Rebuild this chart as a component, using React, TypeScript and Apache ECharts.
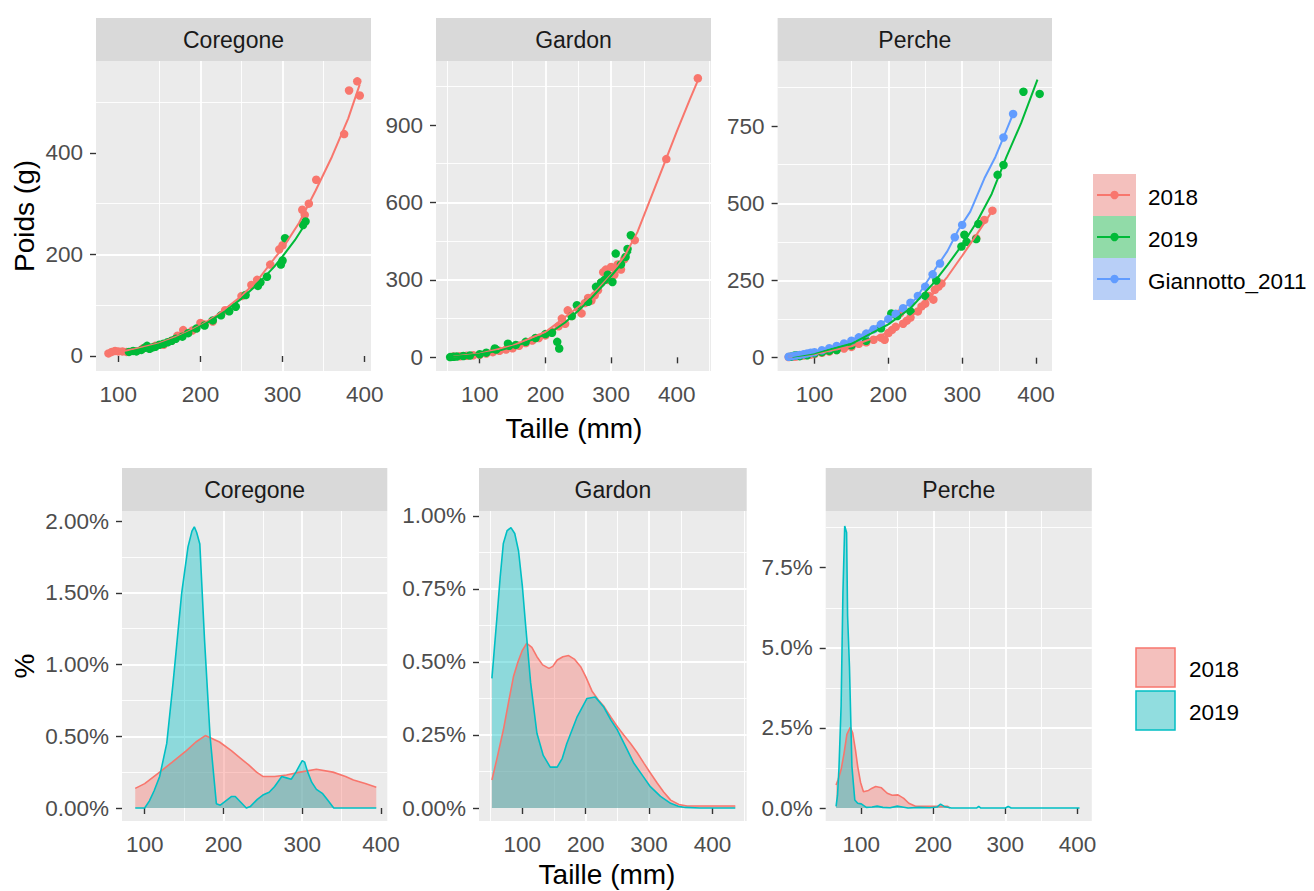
import React, { useEffect, useRef } from "react";
import * as echarts from "echarts";

const FONT = '"Liberation Sans", Arial, sans-serif';
const RED = "#F8766D";
const GREEN = "#00BA38";
const BLUE = "#619CFF";
const CYAN = "#00BFC4";

// ---------- Top row: Poids vs Taille ----------
const cor18PtsX = [88, 92, 96, 100, 105, 110, 130, 145, 155, 165, 172, 179, 190, 200, 205, 215, 230, 250, 262, 269, 285, 296, 300, 324, 327, 332, 341, 375, 381, 391, 394];
const cor18PtsY = [5, 8, 10, 9, 9, 8, 15, 20, 22, 30, 40, 51, 50, 65, 62, 68, 90, 118, 140, 150, 180, 210, 218, 288, 278, 300, 347, 437, 523, 541, 513];
const cor18FitX = [88, 100, 120, 150, 180, 200, 220, 250, 270, 290, 300, 320, 340, 360, 380, 394];
const cor18FitY = [5, 8, 14, 25, 44, 60, 80, 118, 150, 192, 212, 262, 325, 392, 468, 535];
const cor19PtsX = [113, 118, 122, 128, 132, 135, 138, 142, 145, 150, 155, 160, 165, 170, 178, 185, 195, 205, 215, 225, 235, 243, 255, 270, 273, 281, 298, 300, 303, 325, 328];
const cor19PtsY = [8, 10, 9, 12, 16, 20, 14, 17, 18, 22, 24, 27, 30, 34, 38, 45, 54, 60, 70, 80, 88, 97, 120, 138, 145, 156, 180, 188, 232, 258, 265];
const cor19FitX = [113, 130, 150, 170, 190, 210, 230, 250, 270, 290, 300, 315, 330];
const cor19FitY = [8, 15, 23, 35, 50, 67, 88, 113, 142, 176, 196, 228, 266];

const gar18PtsX = [60, 70, 80, 90, 100, 110, 120, 130, 140, 150, 160, 170, 180, 190, 200, 210, 220, 225, 230, 234, 240, 250, 255, 260, 265, 270, 275, 280, 285, 288, 292, 295, 300, 305, 310, 315, 320, 336, 384, 432];
const gar18PtsY = [3, 4, 6, 8, 10, 15, 20, 25, 30, 35, 45, 55, 65, 75, 85, 100, 120, 150, 130, 182, 160, 190, 170, 210, 230, 220, 240, 260, 290, 330, 340, 300, 350, 320, 360, 340, 380, 454, 768, 1081];
const gar18FitX = [60, 100, 150, 200, 250, 280, 300, 320, 340, 360, 380, 400, 420, 435];
const gar18FitY = [3, 14, 45, 98, 195, 265, 320, 390, 485, 615, 745, 875, 1000, 1090];
const gar19PtsX = [55, 60, 65, 75, 85, 100, 110, 123, 125, 143, 145, 155, 170, 185, 200, 210, 218, 221, 240, 248, 265, 277, 285, 290, 295, 302, 307, 315, 322, 325, 330];
const gar19PtsY = [1, 2, 3, 5, 7, 12, 18, 34, 30, 53, 45, 48, 60, 75, 90, 95, 60, 34, 160, 202, 215, 273, 290, 300, 320, 292, 402, 360, 389, 420, 473];
const gar19FitX = [55, 80, 100, 130, 160, 190, 210, 230, 250, 270, 290, 310, 330];
const gar19FitY = [1, 6, 12, 26, 48, 78, 100, 135, 180, 230, 285, 345, 410];

const per18PtsX = [65, 68, 72, 75, 80, 85, 90, 95, 100, 110, 120, 130, 140, 150, 160, 170, 180, 190, 195, 200, 205, 210, 216, 220, 225, 230, 240, 245, 250, 255, 261, 263, 268, 272, 319, 330, 341];
const per18PtsY = [2, 3, 4, 4, 6, 7, 9, 10, 12, 16, 20, 25, 30, 35, 45, 50, 58, 65, 58, 80, 90, 100, 144, 110, 120, 130, 150, 166, 175, 200, 188, 220, 230, 240, 387, 446, 476];
const per18FitX = [65, 100, 150, 200, 220, 240, 260, 280, 300, 320, 341];
const per18FitY = [3, 12, 37, 82, 112, 152, 205, 262, 330, 400, 476];
const per19PtsX = [68, 72, 75, 80, 90, 100, 110, 120, 130, 150, 170, 190, 204, 212, 230, 250, 265, 299, 303, 306, 319, 322, 348, 356, 383, 405];
const per19PtsY = [3, 6, 8, 5, 8, 14, 18, 22, 25, 40, 55, 95, 143, 135, 150, 200, 250, 360, 398, 375, 384, 433, 592, 624, 861, 854];
const per19FitX = [70, 100, 150, 200, 230, 260, 280, 300, 320, 340, 360, 380, 402];
const per19FitY = [3, 14, 45, 108, 160, 238, 300, 365, 440, 530, 650, 760, 900];
const giaPtsX = [65, 70, 75, 80, 85, 90, 95, 100, 110, 120, 130, 140, 150, 160, 170, 180, 190, 200, 210, 220, 230, 240, 250, 260, 270, 290, 300, 356, 369];
const giaPtsY = [3, 5, 7, 9, 11, 14, 16, 18, 24, 31, 38, 46, 55, 66, 78, 92, 108, 125, 142, 160, 178, 200, 230, 270, 305, 390, 430, 713, 789];
const giaFitX = [65, 100, 150, 200, 237, 263, 280, 295, 311, 330, 345, 356, 369];
const giaFitY = [3, 18, 55, 125, 190, 285, 345, 414, 473, 580, 650, 713, 789];

// ---------- Bottom row: density (%) vs Taille ----------
const corD18X = [88, 100, 119, 135, 153, 165, 177, 195, 210, 221, 232, 242, 250, 265, 280, 297, 318, 339, 355, 365, 380, 394];
const corD18Y = [0.137, 0.17, 0.25, 0.32, 0.4, 0.46, 0.505, 0.46, 0.4, 0.35, 0.3, 0.25, 0.22, 0.22, 0.23, 0.25, 0.27, 0.25, 0.22, 0.195, 0.17, 0.145];
const corD19X = [88, 100, 106, 112, 119, 128, 136, 147, 155, 160, 163, 166, 170, 176, 183, 191, 196, 203, 210, 215, 222, 229, 234, 243, 250, 258, 265, 274, 280, 286, 292, 297, 300, 303, 307, 312, 318, 326, 333, 340, 394];
const corD19Y = [0, 0, 0.05, 0.12, 0.22, 0.45, 0.87, 1.5, 1.82, 1.93, 1.96, 1.92, 1.84, 1.17, 0.5, 0.03, 0.02, 0.05, 0.08, 0.08, 0.04, 0, 0.01, 0.06, 0.09, 0.11, 0.15, 0.22, 0.21, 0.2, 0.25, 0.3, 0.33, 0.32, 0.25, 0.18, 0.13, 0.1, 0.05, 0, 0];

const garD18X = [52, 60, 70, 78, 86, 93, 100, 107, 115, 123, 132, 142, 148, 155, 164, 173, 182, 192, 200, 210, 220, 228, 240, 250, 260, 271, 281, 292, 302, 313, 323, 334, 347, 360, 436];
const garD18Y = [0.096, 0.17, 0.267, 0.36, 0.45, 0.5, 0.54, 0.564, 0.55, 0.518, 0.49, 0.478, 0.485, 0.507, 0.518, 0.522, 0.51, 0.484, 0.45, 0.4, 0.37, 0.35, 0.31, 0.278, 0.25, 0.22, 0.19, 0.153, 0.12, 0.085, 0.055, 0.027, 0.012, 0.007, 0.007];
const garD19X = [52, 56, 60, 65, 70, 76, 82, 88, 94, 100, 105, 113, 123, 133, 144, 155, 163, 170, 186, 202, 215, 228, 240, 250, 263, 276, 290, 302, 318, 334, 346, 357, 380, 436];
const garD19Y = [0.444, 0.55, 0.655, 0.79, 0.906, 0.95, 0.96, 0.94, 0.88, 0.76, 0.63, 0.43, 0.256, 0.18, 0.14, 0.14, 0.17, 0.22, 0.31, 0.375, 0.38, 0.347, 0.3, 0.267, 0.21, 0.153, 0.11, 0.073, 0.04, 0.016, 0.006, 0.002, 0, 0];

const perD18X = [65, 68, 72, 76, 80, 84.7, 88, 92, 95, 99, 103, 110, 115, 120, 128, 136, 143, 151, 159, 166, 176, 190, 205, 220, 223];
const perD18Y = [0.72, 0.9, 1.2, 1.7, 2.3, 2.52, 2.35, 1.8, 1.3, 0.8, 0.51, 0.55, 0.62, 0.67, 0.63, 0.46, 0.4, 0.41, 0.3, 0.15, 0.05, 0.05, 0.05, 0.05, 0];
const perD19X = [65, 67, 69, 72, 74.5, 77, 79.6, 81, 83.6, 87, 91, 95, 100, 107, 115, 122, 130, 140, 150, 155, 165, 180, 195, 205, 210, 215, 225, 260, 263, 266, 300, 304, 308, 403];
const perD19Y = [0.05, 0.4, 1.24, 3.2, 6.7, 8.8, 8.6, 6.0, 4.4, 1.3, 0.25, 0.15, 0.13, 0.02, 0.03, 0.06, 0.02, 0.01, 0.06, 0.04, 0, 0.02, 0.01, 0.03, 0.12, 0.05, 0, 0, 0.05, 0, 0, 0.05, 0, 0];

const xTicks = [100, 200, 300, 400];
const panelNames = ["Coregone", "Gardon", "Perche"];
const topYTicks = [[0, 200, 400], [0, 300, 600, 900], [0, 250, 500, 750]];
const botYTicks = [[0, 0.5, 1, 1.5, 2], [0, 0.25, 0.5, 0.75, 1], [0, 2.5, 5, 7.5]];
const legendTop = ["2018", "2019", "Giannotto_2011"];
const legendBot = ["2018", "2019"];

// layout (pixels)
const panels = [
  { left: 96, top: 61, width: 275, height: 310, xr: [72.8, 407.7], yr: [-29.6, 581], yi: 200, dec: -1 },
  { left: 436, top: 61, width: 275, height: 310, xr: [33.5, 452], yr: [-53, 1148], yi: 300, dec: -1 },
  { left: 777.6, top: 61, width: 274.4, height: 310, xr: [50, 421.7], yr: [-43, 960.5], yi: 250, dec: -1 },
  { left: 122, top: 511, width: 265.3, height: 310, xr: [71.2, 408], yr: [-0.0906, 2.07], yi: 0.5, dec: 2 },
  { left: 479, top: 511, width: 267.7, height: 310, xr: [31.6, 454], yr: [-0.0445, 1.017], yi: 0.25, dec: 2 },
  { left: 825.7, top: 511, width: 266.1, height: 310, xr: [50.6, 420], yr: [-0.405, 9.27], yi: 2.5, dec: 1 },
];

const TICK_FS = 22.5;
const zip = (xs: number[], ys: number[]) => xs.map((x, i) => [x, ys[i]]);

function scatterS(i: number, xs: number[], ys: number[], color: string) {
  return { type: "scatter", xAxisIndex: i, yAxisIndex: i, data: zip(xs, ys), symbolSize: 8.5, itemStyle: { color, opacity: 1 }, silent: true, z: 2 };
}
function lineS(i: number, xs: number[], ys: number[], color: string) {
  return { type: "line", xAxisIndex: i, yAxisIndex: i, data: zip(xs, ys), showSymbol: false, symbol: "none", lineStyle: { color, width: 2 }, silent: true, z: 3 };
}
function densS(i: number, xs: number[], ys: number[], color: string) {
  return { type: "line", xAxisIndex: i, yAxisIndex: i, data: zip(xs, ys), showSymbol: false, symbol: "none", lineStyle: { color, width: 1.6 }, areaStyle: { color, opacity: 0.4 }, silent: true, z: 2 };
}

function axisCommon(ticks: number[]) {
  return {
    axisLine: { show: false },
    axisTick: { show: true, length: 6, lineStyle: { color: "#333333", width: 1.4 }, customValues: ticks },
    splitLine: { show: true, showMinLine: false, showMaxLine: false, lineStyle: { color: "#FFFFFF", width: 1.8 } },
    minorTick: { show: false, splitNumber: 2 },
    minorSplitLine: { show: true, lineStyle: { color: "#FFFFFF", width: 0.9 } },
  };
}

export default function App() {
  const ref = useRef<HTMLDivElement>(null);
  useEffect(() => {
    if (!ref.current) return;
    const chart = echarts.init(ref.current, null, { renderer: "svg" });

    const grid = panels.map((p) => ({ left: p.left, top: p.top, width: p.width, height: p.height, show: true, backgroundColor: "#EBEBEB", borderWidth: 0, containLabel: false }));
    const xAxis = panels.map((p, i) => ({
      type: "value", gridIndex: i, min: p.xr[0], max: p.xr[1], minInterval: 100, maxInterval: 100, splitNumber: 3,
      ...axisCommon(xTicks),
      axisLabel: { show: true, color: "#4D4D4D", fontSize: TICK_FS, fontFamily: FONT, margin: 12, customValues: xTicks, formatter: (v: number) => String(Math.round(v)) },
    }));
    const yAxis = panels.map((p, i) => {
      const ticks = i < 3 ? topYTicks[i] : botYTicks[i - 3];
      return {
        type: "value", gridIndex: i, min: p.yr[0], max: p.yr[1], minInterval: p.yi, maxInterval: p.yi, splitNumber: 4,
        ...axisCommon(ticks),
        axisLabel: {
          show: true, color: "#4D4D4D", fontSize: TICK_FS, fontFamily: FONT, margin: 13, customValues: ticks,
          formatter: (v: number) => (p.dec < 0 ? String(Math.round(v)) : Math.abs(v).toFixed(p.dec) + "%"),
        },
      };
    });

    const series: any[] = [
      scatterS(0, cor18PtsX, cor18PtsY, RED), scatterS(0, cor19PtsX, cor19PtsY, GREEN),
      lineS(0, cor18FitX, cor18FitY, RED), lineS(0, cor19FitX, cor19FitY, GREEN),
      scatterS(1, gar18PtsX, gar18PtsY, RED), scatterS(1, gar19PtsX, gar19PtsY, GREEN),
      lineS(1, gar18FitX, gar18FitY, RED), lineS(1, gar19FitX, gar19FitY, GREEN),
      scatterS(2, per18PtsX, per18PtsY, RED), scatterS(2, per19PtsX, per19PtsY, GREEN), scatterS(2, giaPtsX, giaPtsY, BLUE),
      lineS(2, per18FitX, per18FitY, RED), lineS(2, per19FitX, per19FitY, GREEN), lineS(2, giaFitX, giaFitY, BLUE),
      densS(3, corD18X, corD18Y, RED), densS(3, corD19X, corD19Y, CYAN),
      densS(4, garD18X, garD18Y, RED), densS(4, garD19X, garD19Y, CYAN),
      densS(5, perD18X, perD18Y, RED), densS(5, perD19X, perD19Y, CYAN),
    ];

    const graphic: any[] = [];
    panels.forEach((p, i) => {
      graphic.push({ type: "rect", silent: true, shape: { x: p.left, y: p.top - 43, width: p.width, height: 43 }, style: { fill: "#D9D9D9" } });
      graphic.push({ type: "text", silent: true, x: p.left + p.width / 2, y: p.top - 21, style: { text: panelNames[i % 3], fill: "#1A1A1A", fontSize: 23, fontFamily: FONT, align: "center", verticalAlign: "middle" } });
    });
    const titleStyle = { fill: "#000000", fontSize: 28, fontFamily: FONT, align: "center", verticalAlign: "middle" };
    graphic.push({ type: "text", silent: true, x: 24, y: 216, rotation: Math.PI / 2, style: { ...titleStyle, text: "Poids (g)" } });
    graphic.push({ type: "text", silent: true, x: 574, y: 428, style: { ...titleStyle, text: "Taille (mm)" } });
    graphic.push({ type: "text", silent: true, x: 24, y: 666, rotation: Math.PI / 2, style: { ...titleStyle, text: "%" } });
    graphic.push({ type: "text", silent: true, x: 607, y: 874, style: { ...titleStyle, text: "Taille (mm)" } });

    // top legend
    const keyFillTop = ["#F4C0BD", "#91DBA8", "#B8CFF7"];
    const keyColTop = [RED, GREEN, BLUE];
    legendTop.forEach((lab, i) => {
      const y0 = 174 + 42 * i;
      graphic.push({ type: "rect", silent: true, shape: { x: 1093, y: y0, width: 43, height: 42 }, style: { fill: keyFillTop[i] } });
      graphic.push({ type: "line", silent: true, shape: { x1: 1097, y1: y0 + 21, x2: 1130, y2: y0 + 21 }, style: { stroke: keyColTop[i], lineWidth: 2.2 } });
      graphic.push({ type: "circle", silent: true, shape: { cx: 1114.5, cy: y0 + 21, r: 4.2 }, style: { fill: keyColTop[i] } });
      graphic.push({ type: "text", silent: true, x: 1148, y: y0 + 23, style: { text: lab, fill: "#000000", fontSize: TICK_FS, fontFamily: FONT, align: "left", verticalAlign: "middle" } });
    });
    // bottom legend
    const keyFillBot = ["#F4C0BD", "#91DDDF"];
    const keyColBot = [RED, CYAN];
    legendBot.forEach((lab, i) => {
      const y0 = 648 + 43 * i;
      graphic.push({ type: "rect", silent: true, shape: { x: 1136, y: y0, width: 39, height: 39 }, style: { fill: keyFillBot[i], stroke: keyColBot[i], lineWidth: 1.5 } });
      graphic.push({ type: "text", silent: true, x: 1189, y: y0 + 21, style: { text: lab, fill: "#000000", fontSize: TICK_FS, fontFamily: FONT, align: "left", verticalAlign: "middle" } });
    });

    chart.setOption({
      animation: false,
      backgroundColor: "#FFFFFF",
      textStyle: { fontFamily: FONT },
      grid, xAxis, yAxis, series, graphic,
    });
    return () => chart.dispose();
  }, []);
  return <div ref={ref} style={{ position: "fixed", left: 0, top: 0, width: 1314, height: 891 }} />;
}
